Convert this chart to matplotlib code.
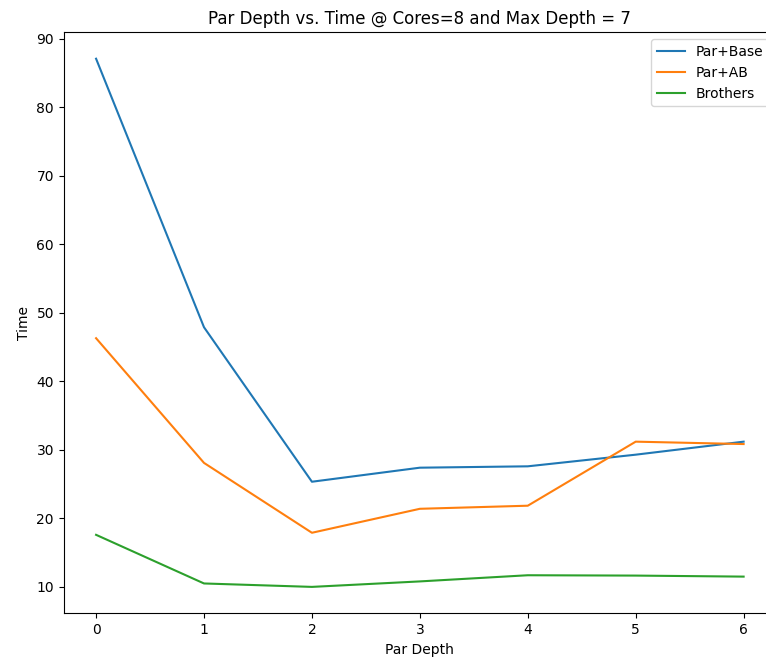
import matplotlib
matplotlib.use("Agg")
import matplotlib.pyplot as plt

par_depth = [0, 1, 2, 3, 4, 5, 6]
par_base = [87.1, 47.9, 25.35, 27.4, 27.6, 29.3, 31.2]
par_ab = [46.3, 28.1, 17.9, 21.4, 21.85, 31.2, 30.85]
brothers = [17.6, 10.5, 10.0, 10.8, 11.7, 11.65, 11.5]

fig = plt.figure(figsize=(7.66, 6.61), dpi=100)
W, H = 766, 661
ax = fig.add_axes([63.7 / W, 1 - 613.3 / H, (776 - 63.7) / W, (613.3 - 32.3) / H])
ax.plot(par_depth, par_base, label="Par+Base")
ax.plot(par_depth, par_ab, label="Par+AB")
ax.plot(par_depth, brothers, label="Brothers")
ax.set_xlabel("Par Depth")
ax.set_ylabel("Time")
ax.set_title("Par Depth vs. Time @ Cores=8 and Max Depth = 7")
ax.legend(loc="upper right")
fig.savefig("out.png", dpi=100)
